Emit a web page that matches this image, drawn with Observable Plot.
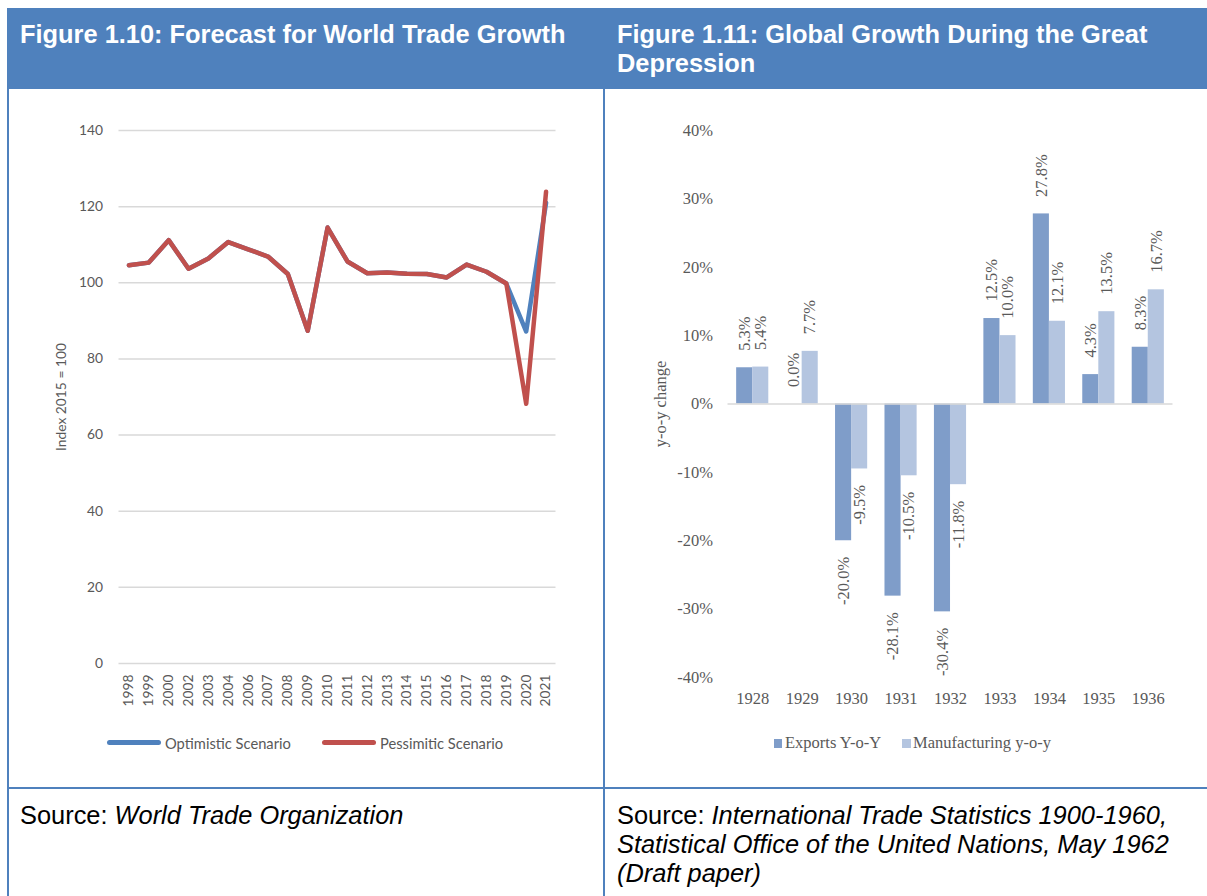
<!DOCTYPE html>
<html>
<head>
<meta charset="utf-8">
<script src="https://cdn.jsdelivr.net/npm/d3@7"></script>
<script src="https://cdn.jsdelivr.net/npm/@observablehq/plot@0.6"></script>
<style>
  body { margin: 0; background: #fff; }
  #page { position: relative; width: 1207px; height: 896px; overflow: hidden; font-family: "Liberation Sans", Arial, sans-serif; background: #fff; }
  .abs { position: absolute; }
  .header { left: 8px; top: 8px; width: 1199px; height: 81px; background: #4f81bd; }
  .title { color: #fff; font-weight: bold; font-size: 25.4px; line-height: 29px; white-space: nowrap; }
  .src { color: #000; font-size: 25.4px; line-height: 29px; white-space: nowrap; }
  .vline { background: #4f81bd; width: 2px; }
  .hline { background: #4f81bd; height: 2px; }
  .lgl { font-family: Lato, sans-serif; font-size: 14.7px; color: #595959; white-space: nowrap; line-height: 16px; }
  .lgr { font-family: "Liberation Serif", serif; font-size: 16.5px; color: #595959; white-space: nowrap; line-height: 18px; }
</style>
</head>
<body>
<div id="page">
  <div class="abs header"></div>
  <div class="abs vline" style="left:7px;top:8px;height:888px;"></div>
  <div class="abs vline" style="left:603px;top:89px;height:807px;"></div>
  <div class="abs hline" style="left:7px;top:787px;width:1200px;"></div>

  <div class="abs title" style="left:20px;top:20px;">Figure 1.10: Forecast for World Trade Growth</div>
  <div class="abs title" style="left:617px;top:20px;">Figure 1.11: Global Growth During the Great<br>Depression</div>

  <div id="leftChart" class="abs" style="left:10px;top:92px;width:592px;height:690px;"></div>
  <div id="rightChart" class="abs" style="left:606px;top:92px;width:599px;height:690px;"></div>

  <div id="leftLegend"></div>
  <div id="rightLegend"></div>

  <div class="abs src" style="left:20px;top:801px;">Source: <i>World Trade Organization</i></div>
  <div class="abs src" style="left:617px;top:801px;">Source: <i>International Trade Statistics 1900-1960,<br>Statistical Office of the United Nations, May 1962<br>(Draft paper)</i></div>
</div>
<script>
// ---- Figure 1.10 data ----
const lineYears = ["1998","1999","2000","2002","2003","2004","2006","2007","2008","2009","2010","2011","2012","2013","2014","2015","2016","2017","2018","2019","2020","2021"];
const optimistic = [104.6,105.3,111.2,103.7,106.4,110.7,108.8,106.9,102.3,87.4,114.5,105.6,102.5,102.7,102.4,102.3,101.4,104.8,102.9,99.8,87.2,121.0];
const pessimistic = [104.6,105.3,111.2,103.7,106.4,110.7,108.8,106.9,102.3,87.4,114.5,105.6,102.5,102.7,102.4,102.3,101.4,104.8,102.9,99.8,68.2,123.9];
const leftYTicks = [0,20,40,60,80,100,120,140];
const lineSeries = ["Optimistic Scenario","Pessimitic Scenario"];
const lineColors = ["#4f81bd","#c0504d"];

// ---- Figure 1.11 data ----
const barYears = ["1928","1929","1930","1931","1932","1933","1934","1935","1936"];
const exportsYoY = [5.3,0.0,-20.0,-28.1,-30.4,12.5,27.8,4.3,8.3];
const manufacturingYoY = [5.4,7.7,-9.5,-10.5,-11.8,10.0,12.1,13.5,16.7];
const rightYTicks = [-40,-30,-20,-10,0,10,20,30,40];
const barSeries = ["Exports Y-o-Y","Manufacturing y-o-y"];
const barColors = ["#7f9dc9","#b4c5e0"];

// ---- Left chart ----
const optRows = lineYears.map((year, i) => ({year, value: optimistic[i]}));
const pesRows = lineYears.map((year, i) => ({year, value: pessimistic[i]}));

const left = Plot.plot({
  width: 592, height: 690,
  marginLeft: 108.5, marginRight: 46.5, marginTop: 38, marginBottom: 119,
  style: {background: "transparent", fontFamily: "Lato, sans-serif", fontSize: "13.8px", color: "#595959", overflow: "visible"},
  x: {type: "point", domain: lineYears, padding: 0.5, round: false},
  y: {domain: [0, 140]},
  marks: [
    Plot.ruleY(leftYTicks, {stroke: "#d9d9d9", strokeWidth: 1.5}),
    Plot.axisX({tickSize: 0, tickPadding: 11, tickRotate: -90, label: null}),
    Plot.axisY({ticks: leftYTicks, tickSize: 0, tickPadding: 16, label: "Index 2015 = 100", labelAnchor: "center", labelArrow: "none", labelOffset: 63}),
    Plot.lineY(optRows, {x: "year", y: "value", stroke: lineColors[0], strokeWidth: 4.5, strokeLinejoin: "round", strokeLinecap: "round"}),
    Plot.lineY(pesRows, {x: "year", y: "value", stroke: lineColors[1], strokeWidth: 4.5, strokeLinejoin: "round", strokeLinecap: "round"})
  ]
});
document.getElementById("leftChart").appendChild(left);

// ---- Right chart ----
const expRows = barYears.map((year, i) => ({year, value: exportsYoY[i]}));
const manRows = barYears.map((year, i) => ({year, value: manufacturingYoY[i]}));
const fmt = d => d.value.toFixed(1) + "%";
const half = 16.05;
const lblOff = 8.03;

const right = Plot.plot({
  width: 599, height: 690,
  marginLeft: 121.5, marginRight: 32.5, marginTop: 38, marginBottom: 105,
  style: {background: "transparent", fontFamily: "'Liberation Serif', serif", fontSize: "16.5px", color: "#595959", overflow: "visible"},
  x: {type: "band", domain: barYears, paddingInner: 0.35, paddingOuter: 0.175, round: false},
  y: {domain: [-40, 40]},
  marks: [
    Plot.barY(expRows, {x: "year", y: "value", fill: barColors[0], insetRight: half}),
    Plot.barY(manRows, {x: "year", y: "value", fill: barColors[1], insetLeft: half}),
    Plot.ruleY([0], {stroke: "#d9d9d9", strokeWidth: 1.5}),
    Plot.axisX({tickSize: 0, tickPadding: 14.5, label: null}),
    Plot.axisY({ticks: rightYTicks, tickFormat: d => `${d}%`, tickSize: 0, tickPadding: 15, label: "y-o-y change", labelAnchor: "center", labelArrow: "none", labelOffset: 74}),
    Plot.text(expRows, {filter: d => d.value >= 0, x: "year", y: "value", text: fmt, rotate: -90, textAnchor: "start", lineAnchor: "middle", dx: -lblOff, dy: -17}),
    Plot.text(expRows, {filter: d => d.value < 0, x: "year", y: "value", text: fmt, rotate: -90, textAnchor: "end", lineAnchor: "middle", dx: -lblOff, dy: 16}),
    Plot.text(manRows, {filter: d => d.value >= 0, x: "year", y: "value", text: fmt, rotate: -90, textAnchor: "start", lineAnchor: "middle", dx: lblOff, dy: -17}),
    Plot.text(manRows, {filter: d => d.value < 0, x: "year", y: "value", text: fmt, rotate: -90, textAnchor: "end", lineAnchor: "middle", dx: lblOff, dy: 16})
  ]
});
document.getElementById("rightChart").appendChild(right);

// ---- Legends (HTML, below the charts) ----
const ll = document.getElementById("leftLegend");
ll.innerHTML =
  `<div class="abs" style="left:107px;top:740px;width:54px;height:5px;border-radius:3px;background:${lineColors[0]}"></div>` +
  `<div class="abs lgl" style="left:165px;top:735px;">${lineSeries[0]}</div>` +
  `<div class="abs" style="left:322px;top:740px;width:54px;height:5px;border-radius:3px;background:${lineColors[1]}"></div>` +
  `<div class="abs lgl" style="left:380px;top:735px;">${lineSeries[1]}</div>`;

const rl = document.getElementById("rightLegend");
rl.innerHTML =
  `<div class="abs" style="left:773.5px;top:739px;width:8.5px;height:8.5px;background:${barColors[0]}"></div>` +
  `<div class="abs lgr" style="left:785px;top:734px;">${barSeries[0]}</div>` +
  `<div class="abs" style="left:902px;top:739px;width:8.5px;height:8.5px;background:${barColors[1]}"></div>` +
  `<div class="abs lgr" style="left:913px;top:734px;">${barSeries[1]}</div>`;
</script>
</body>
</html>
